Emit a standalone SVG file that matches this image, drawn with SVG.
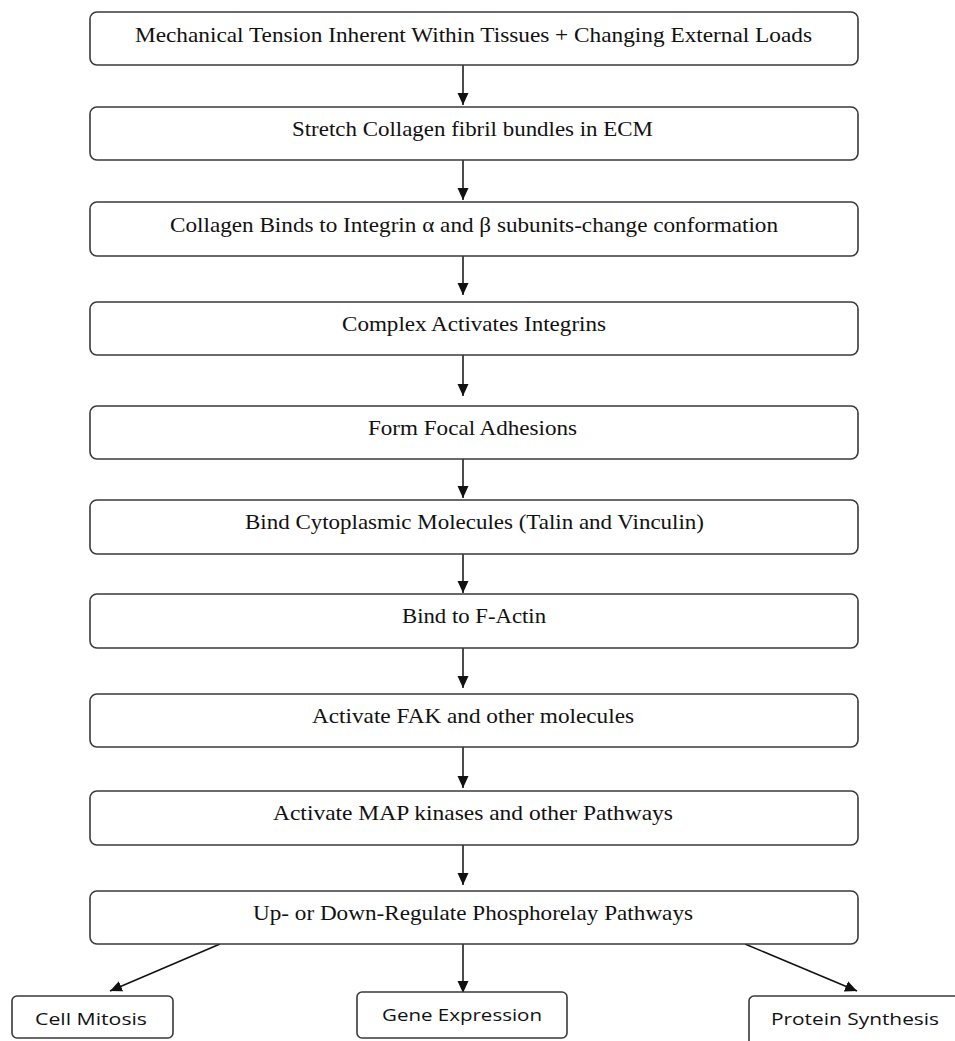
<svg xmlns="http://www.w3.org/2000/svg" width="955" height="1041" viewBox="0 0 955 1041">
<style>
.box{fill:#fff;stroke:#3a3a3a;stroke-width:1.6}
.t{font-family:"Liberation Serif","Times New Roman",serif;font-size:21.5px;fill:#111}
.s{font-family:"Open Sans","DejaVu Sans",sans-serif;font-size:16px;fill:#111}
.c{stroke:#111;stroke-width:1.5;fill:none}
</style>
<defs>
<marker id="ah" markerUnits="userSpaceOnUse" markerWidth="13" markerHeight="12" viewBox="0 0 13 12" refX="12" refY="6" orient="auto">
<path d="M0,0.5 L12,6 L0,11.5 Z" fill="#111"/>
</marker>
</defs>
<rect width="955" height="1041" fill="#fff"/>
<g id="connectors">
<line class="c" x1="463" y1="65" x2="463" y2="105" marker-end="url(#ah)"/>
<line class="c" x1="463" y1="160" x2="463" y2="200" marker-end="url(#ah)"/>
<line class="c" x1="463" y1="256" x2="463" y2="295" marker-end="url(#ah)"/>
<line class="c" x1="463" y1="355" x2="463" y2="396" marker-end="url(#ah)"/>
<line class="c" x1="463" y1="459" x2="463" y2="498" marker-end="url(#ah)"/>
<line class="c" x1="463" y1="554" x2="463" y2="593" marker-end="url(#ah)"/>
<line class="c" x1="463" y1="648" x2="463" y2="688" marker-end="url(#ah)"/>
<line class="c" x1="463" y1="747" x2="463" y2="788" marker-end="url(#ah)"/>
<line class="c" x1="463" y1="845" x2="463" y2="885" marker-end="url(#ah)"/>
<line class="c" x1="220" y1="944" x2="110" y2="991" marker-end="url(#ah)"/>
<line class="c" x1="463" y1="944" x2="463" y2="993" marker-end="url(#ah)"/>
<line class="c" x1="745" y1="944" x2="857" y2="991" marker-end="url(#ah)"/>
</g>
<g id="n1"><rect class="box" x="90" y="12" width="768" height="53" rx="7"/><text class="t" x="135" y="42" textLength="677" lengthAdjust="spacingAndGlyphs">Mechanical Tension Inherent Within Tissues + Changing External Loads</text></g>
<g id="n2"><rect class="box" x="90" y="107" width="768" height="53" rx="7"/><text class="t" x="292" y="136" textLength="361" lengthAdjust="spacingAndGlyphs">Stretch Collagen fibril bundles in ECM</text></g>
<g id="n3"><rect class="box" x="90" y="202" width="768" height="54" rx="7"/><text class="t" x="170" y="232" textLength="608" lengthAdjust="spacingAndGlyphs">Collagen Binds to Integrin α and β subunits-change conformation</text></g>
<g id="n4"><rect class="box" x="90" y="302" width="768" height="53" rx="7"/><text class="t" x="342" y="331" textLength="264" lengthAdjust="spacingAndGlyphs">Complex Activates Integrins</text></g>
<g id="n5"><rect class="box" x="90" y="406" width="768" height="53" rx="7"/><text class="t" x="368" y="435" textLength="209" lengthAdjust="spacingAndGlyphs">Form Focal Adhesions</text></g>
<g id="n6"><rect class="box" x="90" y="500" width="768" height="54" rx="7"/><text class="t" x="245" y="529" textLength="459" lengthAdjust="spacingAndGlyphs">Bind Cytoplasmic Molecules (Talin and Vinculin)</text></g>
<g id="n7"><rect class="box" x="90" y="594" width="768" height="54" rx="7"/><text class="t" x="402" y="623" textLength="144" lengthAdjust="spacingAndGlyphs">Bind to F-Actin</text></g>
<g id="n8"><rect class="box" x="90" y="694" width="768" height="53" rx="7"/><text class="t" x="312" y="723" textLength="322" lengthAdjust="spacingAndGlyphs">Activate FAK and other molecules</text></g>
<g id="n9"><rect class="box" x="90" y="791" width="768" height="54" rx="7"/><text class="t" x="273" y="820" textLength="400" lengthAdjust="spacingAndGlyphs">Activate MAP kinases and other Pathways</text></g>
<g id="n10"><rect class="box" x="90" y="891" width="768" height="53" rx="7"/><text class="t" x="253" y="920" textLength="440" lengthAdjust="spacingAndGlyphs">Up- or Down-Regulate Phosphorelay Pathways</text></g>
<g id="n11"><rect class="box" x="12" y="996" width="161" height="42" rx="5"/><text class="s" x="35" y="1025" textLength="112" lengthAdjust="spacingAndGlyphs">Cell Mitosis</text></g>
<g id="n12"><rect class="box" x="357" y="992" width="210" height="46" rx="5"/><text class="s" x="382" y="1021" textLength="160" lengthAdjust="spacingAndGlyphs">Gene Expression</text></g>
<g id="n13"><rect class="box" x="749" y="996" width="216" height="52" rx="5"/><text class="s" x="771" y="1025" textLength="168" lengthAdjust="spacingAndGlyphs">Protein Synthesis</text></g>
</svg>
